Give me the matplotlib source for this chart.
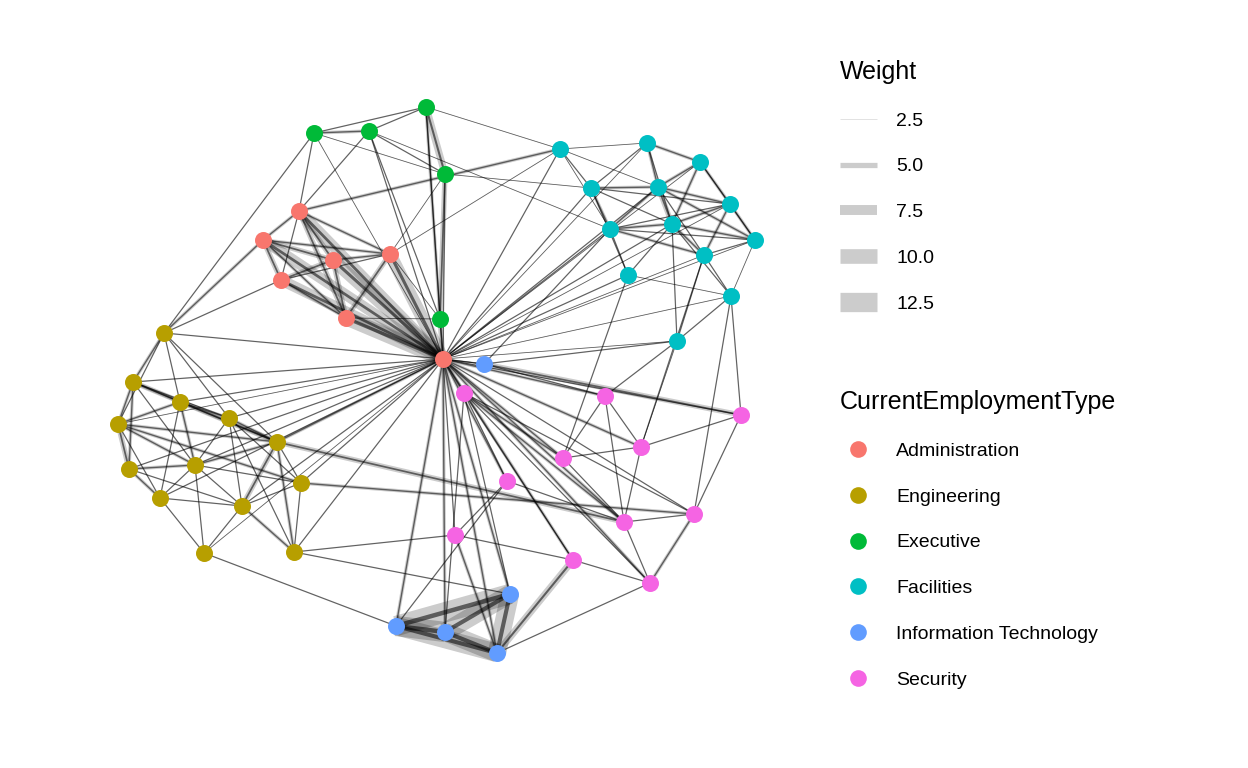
import matplotlib.pyplot as plt
from matplotlib.lines import Line2D

plt.rcParams['font.family'] = ['Liberation Sans', 'DejaVu Sans']

# node positions (layout coordinates)
node_names = ['A0','A1','A2','A3','A4','A5','A6',
              'G0','G1','G2','G3','G4','G5','G6','G7','G8','G9','G10','G11','G12',
              'E0','E1','E2','E3','E4',
              'F0','F1','F2','F3','F4','F5','F6','F7','F8','F9','F10','F11','F12',
              'I0','I1','I2','I3','I4',
              'S0','S1','S2','S3','S4','S5','S6','S7','S8','S9','S10']
node_x = [443,299,263,333,390,281,346,
          164,133,180,229,118,277,195,129,301,160,242,204,294,
          314,369,426,445,440,
          560,647,700,591,658,730,610,672,755,704,628,731,677,
          484,510,396,445,497,
          464,605,741,641,563,507,694,624,455,573,650]
node_y = [359,211,240,260,254,280,318,
          333,382,402,418,424,442,465,469,483,498,506,553,552,
          133,131,107,174,319,
          149,143,162,188,187,204,229,224,240,255,275,296,341,
          364,594,626,632,653,
          393,396,415,447,458,481,514,522,535,560,583]
groups = {'A': 'Administration', 'G': 'Engineering', 'E': 'Executive',
          'F': 'Facilities', 'I': 'Information Technology', 'S': 'Security'}
group_colors = {'Administration': '#F8766D', 'Engineering': '#B79F00',
                'Executive': '#00BA38', 'Facilities': '#00BFC4',
                'Information Technology': '#619CFF', 'Security': '#F564E3'}

# edges "src-dst:weight"
edges = """
A0-A1:8 A0-A2:8 A0-A3:9 A0-A4:9 A0-A5:8 A0-A6:10 A1-A2:4 A1-A3:5 A1-A4:4 A1-A5:3 A1-A6:5
A2-A3:5 A2-A4:4 A2-A5:5 A2-A6:4 A3-A4:4 A3-A5:5 A3-A6:5 A4-A5:3 A4-A6:5 A5-A6:4
E0-E1:4 E0-E2:3 E1-E2:3 E2-E3:6 E1-E3:3 E0-E3:2.5 E2-E4:4 E3-E4:5 E1-E4:3 E0-A1:3 E1-A1:3
E3-A4:2.5 E4-A0:5 E2-A0:3 E3-A0:3 E0-A0:2.5 E1-A0:3 E4-A6:2.5 E4-A4:2.5
A0-F0:3 A0-F1:2.5 A0-F2:2.5 A0-F3:3 A0-F4:3 A0-F5:2.5 A0-F6:3 A0-F7:3 A0-F8:2.5 A0-F9:2.5
A0-F10:3 A0-F11:2.5 A0-F12:2.5
F0-F3:3 F0-F4:2.5 F0-F1:2.5 F1-F2:4 F1-F4:4 F1-F7:3 F1-F3:3 F2-F4:4 F2-F5:4 F2-F8:3 F2-F7:4
F3-F4:4 F3-F6:4 F3-F7:3 F3-F10:3 F4-F5:4 F4-F6:4 F4-F7:5 F4-F8:4 F4-F9:3 F5-F7:4 F5-F8:4
F5-F9:4 F5-F6:3 F6-F7:4 F6-F8:3 F6-F9:4 F6-F10:3 F7-F8:4 F7-F9:4 F7-F10:3 F7-F11:3 F8-F9:3
F8-F11:2.5 F9-F11:3 F9-F12:3 F10-F11:2.5 F11-F12:3 F7-F12:3 F3-F5:3 F0-F6:2.5
A0-G0:3 A0-G1:3 A0-G2:3 A0-G3:3 A0-G4:2.5 A0-G5:4 A0-G6:3 A0-G7:3 A0-G8:3 A0-G9:3 A0-G10:3
A0-G12:3 A0-G11:2.5
G0-G1:4 G0-G2:3 G0-G4:3 G0-G5:3 G0-G3:3 G1-G2:4 G1-G4:4 G1-G3:3 G1-G6:3 G1-G7:4 G1-G5:5
G2-G3:4 G2-G4:4 G2-G6:4 G2-G5:4 G2-G9:3 G3-G5:4 G3-G6:3 G3-G8:3 G3-G10:3 G4-G6:4 G4-G7:5
G4-G9:3 G4-G5:4 G5-G6:4 G5-G8:3 G5-G10:5 G5-G12:4 G6-G7:4 G6-G9:3 G6-G10:3 G6-G8:3 G7-G9:4
G7-G10:3 G8-G10:3 G8-G12:3 G9-G10:3 G9-G11:3 G10-G11:3 G10-G12:4 G3-G12:3 G6-G11:3 G4-G8:4
A0-I0:3 A0-I1:4 A0-I2:4 A0-I3:4 A0-I4:4 I1-I2:13 I1-I3:12 I1-I4:12 I2-I3:13 I2-I4:12 I3-I4:12
A0-S0:4 A0-S1:4 A0-S2:3 A0-S3:4 A0-S4:4 A0-S5:4 A0-S6:3 A0-S7:4 A0-S8:3 A0-S9:4 A0-S10:4
S0-S4:4 S0-S5:3 S0-S7:4 S0-S9:3 S0-S10:3 S0-S6:3 S1-S3:3 S1-S7:3 S1-S4:3 S2-S3:3 S2-S6:3
S3-S7:3 S3-S4:3 S4-S7:3 S5-S8:3 S5-S7:3 S6-S7:3 S6-S10:4 S7-S10:3 S8-S9:3 S9-S10:3
S0-I1:3 S0-I3:3 S5-I2:3 S8-I4:4 S9-I4:6 S10-I4:3 I0-S2:5 I0-S1:3 I0-F12:3 I0-A0:3
A2-G0:4 A1-F0:4 E2-F0:2.5 E3-F3:2.5 A4-F0:2.5 G12-S8:3 G11-I2:3 S3-F9:3 S2-F11:3 S1-F12:3
S6-F11:3 S4-F10:3 G5-S7:5 G8-S6:4 G12-I1:3 E1-F6:2.5 E0-G0:3 A5-G0:3 S3-F12:2.5 I0-F6:3
"""

node_idx = {n: i for i, n in enumerate(node_names)}


def width(w):
    return 0.4 + (w - 2.5) * 1.35


fig = plt.figure(figsize=(12.48, 7.68), dpi=100)
ax = fig.add_axes([0, 0, 1, 1])
ax.set_xlim(0, 1248)
ax.set_ylim(768, 0)
ax.axis('off')

for e in edges.split():
    pair, w = e.split(':')
    s, d = pair.split('-')
    w = float(w)
    i, j = node_idx[s], node_idx[d]
    # a thin dark core plus a light wide band
    ax.plot([node_x[i], node_x[j]], [node_y[i], node_y[j]], color='black',
            alpha=0.2, lw=width(w), solid_capstyle='butt', zorder=1)
    ax.plot([node_x[i], node_x[j]], [node_y[i], node_y[j]], color='black',
            alpha=0.55, lw=0.6 + (w - 2.5) * 0.25, zorder=2)

for n, x, y in zip(node_names, node_x, node_y):
    ax.scatter(x, y, s=150, color=group_colors[groups[n[0]]], zorder=3, lw=0)

w_labels = ['2.5', '5.0', '7.5', '10.0', '12.5']
w_values = [2.5, 5.0, 7.5, 10.0, 12.5]
w_handles = [Line2D([], [], color='#cccccc', lw=width(w), solid_capstyle='butt')
             for w in w_values]
fig.legend(w_handles, w_labels, title='Weight', loc='upper left',
           bbox_to_anchor=(0.659, 0.945), frameon=False, fontsize=14,
           title_fontsize=18, handlelength=1.9, labelspacing=1.45,
           handletextpad=1.0, alignment='left')
c_handles = [Line2D([], [], marker='o', ls='', ms=12, color=c, mew=0)
             for c in group_colors.values()]
fig.legend(c_handles, list(group_colors.keys()), title='CurrentEmploymentType',
           loc='upper left', bbox_to_anchor=(0.659, 0.515), frameon=False,
           fontsize=14, title_fontsize=18, handlelength=1.9, labelspacing=1.45,
           handletextpad=1.0, alignment='left')

fig.savefig('out.png')
